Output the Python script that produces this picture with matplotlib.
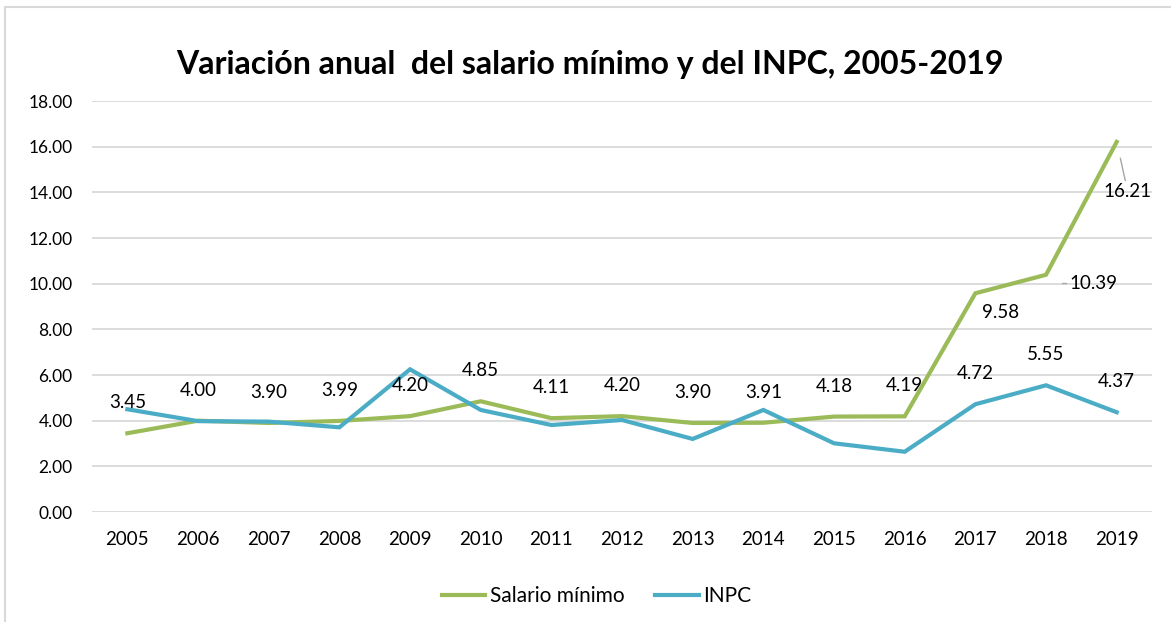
import matplotlib.pyplot as plt
from matplotlib.patches import Rectangle

years = ['2005', '2006', '2007', '2008', '2009', '2010', '2011', '2012',
         '2013', '2014', '2015', '2016', '2017', '2018', '2019']
salario = [3.45, 4.00, 3.90, 3.99, 4.20, 4.85, 4.11, 4.20,
           3.90, 3.91, 4.18, 4.19, 9.58, 10.39, 16.21]
inpc = [4.50, 3.98, 3.96, 3.71, 6.25, 4.47, 3.81, 4.03,
        3.20, 4.47, 3.01, 2.64, 4.72, 5.55, 4.37]
yticks = [0, 2, 4, 6, 8, 10, 12, 14, 16, 18]

plt.rcParams['font.family'] = ['Lato', 'DejaVu Sans']

verde = '#9BBB59'
azul = '#4BACC6'

fig = plt.figure(figsize=(11.71, 6.22), dpi=100)
ax = fig.add_axes([0.0786, 0.1768, 0.9052, 0.6608])

x = list(range(len(years)))
ax.plot(x, salario, color=verde, lw=3, label='Salario mínimo', solid_joinstyle='miter')
ax.plot(x, inpc, color=azul, lw=3, label='INPC', solid_joinstyle='miter')

ax.set_xlim(-0.5, len(years) - 0.5)
ax.set_ylim(0, 18)
ax.set_yticks(yticks)
ax.set_yticklabels(['{:.2f}'.format(v) for v in yticks], fontsize=12.5)
ax.set_xticks(x)
ax.set_xticklabels(years, fontsize=13.5)
ax.tick_params(length=0)
ax.tick_params(axis='y', pad=14)
ax.tick_params(axis='x', pad=14)
ax.grid(axis='y', color='#d9d9d9', lw=1.3)
ax.set_axisbelow(True)
for s in ax.spines.values():
    s.set_visible(False)

# etiquetas del salario minimo (arriba del punto)
for i in range(12):
    ax.annotate('{:.2f}'.format(salario[i]), (i, salario[i]), xytext=(0, 22),
                textcoords='offset points', ha='center', va='center', fontsize=13.5)
ax.annotate('{:.2f}'.format(salario[12]), (12, salario[12]), xytext=(18, -14),
            textcoords='offset points', ha='center', va='center', fontsize=13.5)
ax.annotate('{:.2f}'.format(salario[13]), (13, salario[13]), xytext=(34, -6),
            textcoords='offset points', ha='center', va='center', fontsize=13.5,
            arrowprops=dict(arrowstyle='-', color='#a6a6a6', lw=1,
                            shrinkA=0, shrinkB=13, connectionstyle='angle,angleA=0,angleB=60'))
ax.annotate('{:.2f}'.format(salario[14]), (14, salario[14]), xytext=(8, -36),
            textcoords='offset points', ha='center', va='center', fontsize=13.5,
            arrowprops=dict(arrowstyle='-', color='#a6a6a6', lw=1, shrinkA=0, shrinkB=12))

# etiquetas del INPC 2017-2019
for i in range(12, 15):
    ax.annotate('{:.2f}'.format(inpc[i]), (i, inpc[i]), xytext=(0, 22),
                textcoords='offset points', ha='center', va='center', fontsize=13.5)

fig.suptitle('Variación anual  del salario mínimo y del INPC, 2005-2019',
             x=0.504, y=0.92, fontsize=23, fontweight='bold')

ax.legend(loc='center', bbox_to_anchor=(0.476, -0.205), ncol=2, frameon=False,
          fontsize=15, handlelength=2.1, handletextpad=0.2, columnspacing=1.5)

fig.patches.append(Rectangle((5 / 1171, -0.1), 1.2, 1 - 7 / 622 + 0.1,
                             transform=fig.transFigure, fill=False,
                             edgecolor='#d9d9d9', lw=1.5))

fig.savefig('out.png', dpi=100)
